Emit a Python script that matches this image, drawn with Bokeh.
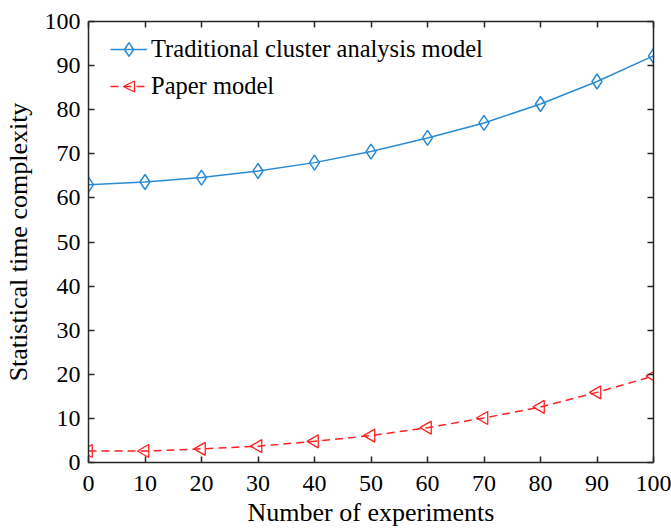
import math
from bokeh.plotting import figure
from bokeh.models import (LinearAxis, Legend, LegendItem, Range1d, FixedTicker,
                          CustomJSTickFormatter, Arrow, NormalHead)
from bokeh.embed import file_html
from bokeh.resources import INLINE

experiments = [0, 10, 20, 30, 40, 50, 60, 70, 80, 90, 100]
traditional = [63.0, 63.6, 64.6, 66.1, 68.0, 70.5, 73.6, 77.0, 81.3, 86.4, 92.2]
paper = [2.6, 2.6, 3.1, 3.7, 4.8, 6.1, 7.9, 10.1, 12.6, 15.9, 19.6]
ticks = [0, 10, 20, 30, 40, 50, 60, 70, 80, 90, 100]

FONT = "Liberation Serif"
BLUE = "#2a8ad2"
RED = "#ff2222"

p = figure(frame_width=565, frame_height=441,
           output_backend="svg", toolbar_location=None,
           x_range=Range1d(0, 100), y_range=Range1d(0, 100),
           min_border_left=88, min_border_right=18, min_border_top=21, min_border_bottom=67)
p.grid.visible = False
p.outline_line_color = None
p.background_fill_color = "white"

def style_axis(ax, labels=True):
    ax.ticker = FixedTicker(ticks=ticks)
    ax.axis_line_color = "#262626"
    ax.axis_line_width = 1.5
    ax.major_tick_in = 6
    ax.major_tick_out = 0
    ax.major_tick_line_color = "#262626"
    ax.major_tick_line_width = 1.5
    ax.minor_tick_line_color = None
    ax.major_label_text_font = FONT
    ax.major_label_text_font_size = "24px"
    ax.major_label_text_color = "black"
    ax.axis_label_text_font = FONT
    ax.axis_label_text_font_size = "26px"
    ax.axis_label_text_font_style = "normal"
    ax.axis_label_text_color = "black"
    if not labels:
        ax.formatter = CustomJSTickFormatter(code="return ''")
        ax.major_label_standoff = 0

p.xaxis.axis_label = "Number of experiments"
p.yaxis.axis_label = "Statistical time complexity"
style_axis(p.xaxis[0])
style_axis(p.yaxis[0])
p.xaxis.major_label_standoff = 13
p.yaxis.major_label_standoff = 8
p.xaxis.axis_label_standoff = 4
p.yaxis.axis_label_standoff = 9

top = LinearAxis()
style_axis(top, labels=False)
p.add_layout(top, "above")
right = LinearAxis()
style_axis(right, labels=False)
p.add_layout(right, "right")

l1 = p.line(experiments, traditional, line_color=BLUE, line_width=1.5)
m1 = p.scatter(experiments, traditional, marker="diamond", size=15,
               line_color=BLUE, fill_color=None, line_width=1.5)
l2 = p.line(experiments, paper, line_color=RED, line_width=1.5, line_dash="8 5")
m2 = p.scatter(experiments, paper, marker="triangle", size=13, angle=math.pi / 2,
               line_color=RED, fill_color=None, line_width=1.3)

legend = Legend(items=[
    LegendItem(label="Traditional cluster analysis model", renderers=[l1, m1]),
    LegendItem(label="Paper model", renderers=[l2]),
], location=(22, 359))
legend.border_line_color = None
legend.background_fill_alpha = 0
legend.padding = 0
legend.margin = 0
legend.spacing = 3
legend.glyph_width = 37
legend.glyph_height = 34
legend.label_height = 34
legend.label_standoff = 4
legend.label_text_font = FONT
legend.label_text_font_size = "24.5px"
legend.label_text_color = "black"
p.add_layout(legend, "center")

# left-pointing triangle symbol for the "Paper model" legend entry
legend_tri = Arrow(end=NormalHead(size=11, line_color=RED, line_width=1.3, fill_color=None),
                   x_start=46, y_start=376, x_end=35, y_end=376,
                   start_units="screen", end_units="screen", line_alpha=0)
p.add_layout(legend_tri)

open("out.html", "w").write(file_html(p, INLINE))
